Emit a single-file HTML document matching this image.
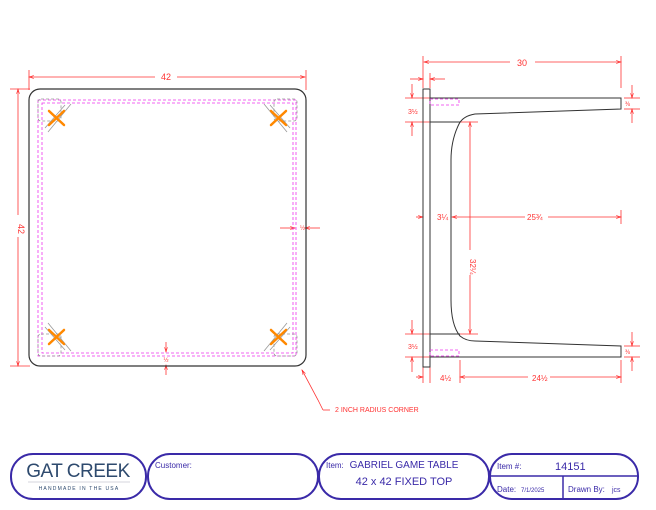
<!DOCTYPE html>
<html><head><style>
body{margin:0;background:#fff;width:656px;height:505px;overflow:hidden}
svg text{font-family:"Liberation Sans",sans-serif}
</style></head><body>
<svg width="656" height="505" viewBox="0 0 656 505" xmlns="http://www.w3.org/2000/svg">
<defs>
<marker id="a" viewBox="0 0 10 10" refX="10" refY="5" markerWidth="8" markerHeight="6" orient="auto-start-reverse"><path d="M0,2 L10,5 L0,8" fill="none" stroke="#f22" stroke-width="1.2"/></marker>
</defs>
<g fill="none" stroke="#f33" stroke-width="0.8">
<!-- left view dims -->
<line x1="29" y1="77" x2="155" y2="77" marker-start="url(#a)"/><line x1="177" y1="77" x2="305" y2="77" marker-end="url(#a)"/>
<line x1="29" y1="70" x2="29" y2="90"/><line x1="306" y1="70" x2="306" y2="90"/>
<line x1="18" y1="89" x2="18" y2="215" marker-start="url(#a)"/><line x1="18" y1="237" x2="18" y2="366" marker-end="url(#a)"/>
<line x1="10" y1="89" x2="30" y2="89"/><line x1="10" y1="366" x2="30" y2="366"/>
<line x1="280" y1="228" x2="295" y2="228" marker-end="url(#a)"/><line x1="320" y1="228" x2="305" y2="228" marker-end="url(#a)"/>
<line x1="166" y1="342" x2="166" y2="352" marker-end="url(#a)"/><line x1="166" y1="375" x2="166" y2="365" marker-end="url(#a)"/>
<polyline points="323,410 318,400 302,370" marker-end="url(#a)"/>
<line x1="323" y1="410" x2="330" y2="410"/>
<!-- right view dims -->
<line x1="424" y1="62" x2="510" y2="62" marker-start="url(#a)"/><line x1="535" y1="62" x2="621" y2="62" marker-end="url(#a)"/>
<line x1="423" y1="56" x2="423" y2="88"/><line x1="621" y1="56" x2="621" y2="88"/>
<line x1="410" y1="79" x2="423" y2="79" marker-end="url(#a)"/><line x1="445" y1="79" x2="430" y2="79" marker-end="url(#a)"/><line x1="430" y1="73" x2="430" y2="88"/>
<line x1="405" y1="98" x2="430" y2="98"/><line x1="405" y1="122" x2="430" y2="122"/>
<line x1="412" y1="84" x2="412" y2="98" marker-end="url(#a)"/><line x1="412" y1="136" x2="412" y2="122" marker-end="url(#a)"/>
<line x1="405" y1="334" x2="430" y2="334"/><line x1="405" y1="357" x2="430" y2="357"/>
<line x1="412" y1="320" x2="412" y2="334" marker-end="url(#a)"/><line x1="412" y1="372" x2="412" y2="357" marker-end="url(#a)"/>
<line x1="624" y1="98" x2="640" y2="98"/><line x1="624" y1="109" x2="640" y2="109"/>
<line x1="632" y1="85" x2="632" y2="98" marker-end="url(#a)"/><line x1="632" y1="123" x2="632" y2="109" marker-end="url(#a)"/>
<line x1="624" y1="346" x2="640" y2="346"/><line x1="624" y1="357" x2="640" y2="357"/>
<line x1="632" y1="332" x2="632" y2="346" marker-end="url(#a)"/><line x1="632" y1="371" x2="632" y2="357" marker-end="url(#a)"/>
<line x1="416" y1="217" x2="423" y2="217" marker-end="url(#a)"/>
<line x1="452" y1="217" x2="525" y2="217" marker-start="url(#a)"/><line x1="548" y1="217" x2="621" y2="217" marker-end="url(#a)"/><line x1="621" y1="210" x2="621" y2="224"/>
<line x1="470" y1="122" x2="470" y2="250" marker-start="url(#a)"/><line x1="470" y1="275" x2="470" y2="334" marker-end="url(#a)"/>
<line x1="460" y1="122" x2="478" y2="122"/><line x1="460" y1="334" x2="478" y2="334"/>
<line x1="416" y1="377" x2="423" y2="377" marker-end="url(#a)"/>
<line x1="460" y1="377" x2="528" y2="377" marker-start="url(#a)"/><line x1="550" y1="377" x2="621" y2="377" marker-end="url(#a)"/>
<line x1="460" y1="360" x2="460" y2="383"/><line x1="621" y1="360" x2="621" y2="383"/><line x1="430" y1="360" x2="430" y2="383"/><line x1="423" y1="367" x2="423" y2="383"/>
</g>
<g fill="#f33" font-size="8">
<text x="166" y="80" text-anchor="middle" font-size="9">42</text>
<text x="21" y="226" text-anchor="middle" font-size="9" transform="rotate(90 18 226)">42</text>
<text x="300" y="230" font-size="6">½</text>
<text x="166" y="362" font-size="6" text-anchor="middle">½</text>
<text x="335" y="412" font-size="7">2 INCH RADIUS CORNER</text>
<text x="522" y="66" text-anchor="middle" font-size="9">30</text>
<text x="408" y="114" font-size="7">3½</text><text x="408" y="349" font-size="7">3½</text>
<text x="625" y="106" font-size="6">⅜</text><text x="625" y="354" font-size="6">⅜</text>
<text x="437" y="220" font-size="8">3¼</text>
<text x="527" y="220" font-size="8">25¾</text>
<text x="466" y="263" font-size="8" transform="rotate(90 470 263)">32¼</text>
<text x="440" y="381" font-size="8">4½</text>
<text x="532" y="381" font-size="8">24½</text>
</g>
<!-- left view -->
<rect x="29" y="89" width="277" height="277" rx="11" fill="none" stroke="#333" stroke-width="1.2"/>
<g fill="none" stroke="#e3e" stroke-width="0.8" stroke-dasharray="3,2">
<rect x="38" y="100" width="258" height="256"/>
<rect x="42" y="103" width="251" height="250"/>
</g>
<g fill="none" stroke="#999" stroke-width="0.8" stroke-dasharray="3,2">
<rect x="38" y="99" width="23" height="22" rx="3"/><rect x="274" y="99" width="23" height="22" rx="3"/>
<rect x="38" y="334" width="23" height="22" rx="3"/><rect x="274" y="334" width="23" height="22" rx="3"/>
</g>
<g stroke="#999" stroke-width="0.8">
<line x1="45" y1="128" x2="65" y2="105"/><line x1="48" y1="132" x2="71" y2="104"/>
<line x1="290" y1="128" x2="270" y2="105"/><line x1="287" y1="132" x2="264" y2="104"/>
<line x1="45" y1="327" x2="65" y2="350"/><line x1="48" y1="323" x2="71" y2="351"/>
<line x1="290" y1="327" x2="270" y2="350"/><line x1="287" y1="323" x2="264" y2="351"/>
</g>
<g stroke="#f80" stroke-width="2.5" stroke-linecap="round">
<line x1="49" y1="111" x2="64" y2="125"/><line x1="49" y1="125" x2="64" y2="111"/>
<line x1="271" y1="111" x2="286" y2="125"/><line x1="271" y1="125" x2="286" y2="111"/>
<line x1="49" y1="330" x2="64" y2="344"/><line x1="49" y1="344" x2="64" y2="330"/>
<line x1="271" y1="330" x2="286" y2="344"/><line x1="271" y1="344" x2="286" y2="330"/>
</g>
<!-- right view -->
<g fill="none" stroke="#333" stroke-width="1">
<rect x="423" y="89" width="7" height="278"/>
<path d="M430,98 L621,98 L621,109 L475,114 Q463,116 459,124 Q451,140 451,160 L451,300 Q451,325 460,336 Q466,341 475,341 L621,346 L621,357 L430,357"/>
<line x1="430" y1="122" x2="460" y2="122"/><line x1="430" y1="334" x2="460" y2="334"/>
</g>
<g fill="none" stroke="#e3e" stroke-width="0.8" stroke-dasharray="3,2">
<rect x="430" y="99" width="29" height="6"/><rect x="430" y="350" width="29" height="6"/>
</g>
<!-- title block -->
<g fill="none" stroke="#3a2aa8" stroke-width="2">
<rect x="11" y="454" width="135" height="45" rx="22"/>
<rect x="148" y="454" width="170" height="45" rx="22"/>
<rect x="319" y="454" width="170" height="45" rx="22"/>
<rect x="490" y="454" width="148" height="45" rx="22"/>
<line x1="491" y1="476" x2="637" y2="476" stroke-width="1.5"/>
<line x1="563" y1="476" x2="563" y2="499" stroke-width="1.5"/>
</g>
<text x="78" y="477" text-anchor="middle" font-size="19" fill="#2e4a6e" font-family="Liberation Serif" letter-spacing="-0.5">GAT CREEK</text>
<line x1="28" y1="482" x2="130" y2="482" stroke="#aab" stroke-width="0.6"/>
<text x="79" y="490" text-anchor="middle" font-size="5" fill="#2e4a6e" letter-spacing="1.2">HANDMADE IN THE USA</text>
<g fill="#3a2aa8">
<text x="155" y="468" font-size="8">Customer:</text>
<text x="326" y="468" font-size="8">Item:</text>
<text x="404" y="468" text-anchor="middle" font-size="10">GABRIEL GAME TABLE</text>
<text x="404" y="485" text-anchor="middle" font-size="11">42 x 42 FIXED TOP</text>
<text x="497" y="469" font-size="8">Item #:</text>
<text x="555" y="470" font-size="11">14151</text>
<text x="497" y="492" font-size="8">Date:</text>
<text x="521" y="492" font-size="6">7/1/2025</text>
<text x="568" y="492" font-size="8">Drawn By:</text>
<text x="612" y="492" font-size="7">jcs</text>
</g>
</svg>
</body></html>
